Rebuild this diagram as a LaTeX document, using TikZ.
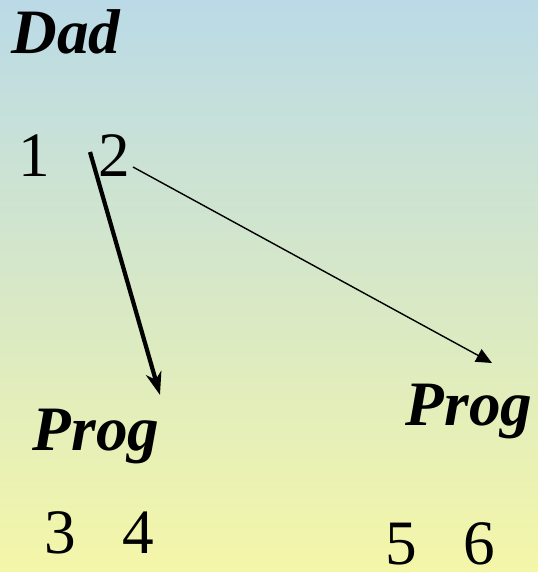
\documentclass[tikz,border=0pt]{standalone}
\usepackage{fontspec}
\setmainfont{Liberation Serif}
\usepackage{tikz}
\usetikzlibrary{arrows.meta, positioning, calc}
\usepackage{xcolor}
\definecolor{skytop}{RGB}{186,218,231}
\definecolor{lemonbottom}{RGB}{244,246,168}

\begin{document}
\begin{tikzpicture}[x=0.02cm, y=-0.02cm,
    big/.style={inner sep=0pt, anchor=base, font=\fontsize{36}{40}\selectfont},
    bigname/.style={big, font=\fontsize{36}{40}\selectfont\bfseries\itshape}]
  \shade[top color=skytop, bottom color=lemonbottom] (0,0) rectangle (538,572);
  \useasboundingbox (0,0) rectangle (538,572);
  % parent and its numbers
  \node[bigname] (dad) at (66,53) {Dad};
  \node[big] (one) at (34,176) {1};
  \node[big] (two) at (114,176) {2};
  % the two children
  \node[bigname] (progl) at (96,450) {Prog};
  \node[big] (three) at (60,553) {3};
  \node[big] (four) at (138,553) {4};
  \node[bigname] (progr) at (469,425) {Prog};
  \node[big] (five) at (401,564) {5};
  \node[big] (six) at (479,564) {6};
  % arrow ends
  \coordinate (twoleft) at (90,152);
  \coordinate (tworight) at (133,167);
  \coordinate (intol) at (160,395);
  \coordinate (intor) at (492,363);
  \draw[line width=2.4pt, -{Stealth[length=13pt, width=9pt, inset=4pt]}] (twoleft) -- (intol);
  \draw[line width=0.8pt, -{Triangle[length=9pt, width=8pt]}] (tworight) -- (intor);
\end{tikzpicture}
\end{document}
